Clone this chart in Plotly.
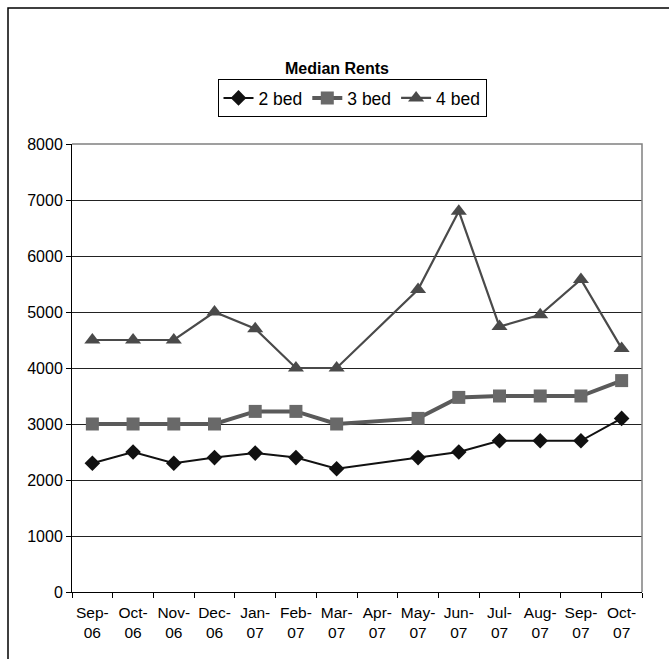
import plotly.graph_objects as go

months = ["Sep-<br>06", "Oct-<br>06", "Nov-<br>06", "Dec-<br>06", "Jan-<br>07", "Feb-<br>07",
          "Mar-<br>07", "Apr-<br>07", "May-<br>07", "Jun-<br>07", "Jul-<br>07", "Aug-<br>07",
          "Sep-<br>07", "Oct-<br>07"]
bed2 = [2300, 2500, 2300, 2400, 2480, 2400, 2200, None, 2400, 2500, 2700, 2700, 2700, 3100]
bed3 = [3000, 3000, 3000, 3000, 3225, 3225, 3000, None, 3100, 3475, 3500, 3500, 3500, 3775]
bed4 = [4500, 4500, 4500, 5000, 4700, 4000, 4000, None, 5400, 6800, 4740, 4950, 5580, 4350]
y_ticks = [0, 1000, 2000, 3000, 4000, 5000, 6000, 7000, 8000]

FONT = "Liberation Sans, Arial, sans-serif"

fig = go.Figure()
fig.add_trace(go.Scatter(x=months, y=bed2, name="2 bed", mode="lines+markers",
                         connectgaps=True,
                         line=dict(color="#111111", width=2),
                         marker=dict(symbol="diamond", size=12, color="#111111")))
fig.add_trace(go.Scatter(x=months, y=bed3, name="3 bed", mode="lines+markers",
                         connectgaps=True,
                         line=dict(color="#5a5a5a", width=4),
                         marker=dict(symbol="square", size=13, color="#696969")))
fig.add_trace(go.Scatter(x=months, y=bed4, name="4 bed", mode="lines+markers",
                         connectgaps=True,
                         line=dict(color="#4a4a4a", width=2.2),
                         marker=dict(symbol="triangle-up", size=14, color="#4a4a4a")))

L, R, T, B = 72, 642, 144, 592
W, H = 669, 659
pw, ph = R - L, B - T
bx = (8 - L) / pw
by = 1 + (T - 8) / ph
fig.add_shape(type="path", xref="paper", yref="paper",
              path=f"M {bx},{-0.3} L {bx},{by} L {1.1},{by}",
              line=dict(color="#000000", width=1.5))
# plot area border (top/right gray)
fig.add_shape(type="path", xref="paper", yref="paper",
              path="M 0,1 L 1,1 L 1,0",
              line=dict(color="#808080", width=1.5))

fig.update_layout(
    width=W, height=H,
    margin=dict(l=L, r=W - R, t=T, b=H - B, autoexpand=False),
    paper_bgcolor="white", plot_bgcolor="white",
    font=dict(family=FONT, color="#000000", size=15),
    title=dict(text="<b>Median Rents</b>", x=337 / W, xanchor="center",
               y=1 - 68 / H, yanchor="middle", yref="container",
               font=dict(size=16, family=FONT)),
    showlegend=True,
    legend=dict(orientation="h", x=(352 - L) / pw, xanchor="center",
                y=1 + (T - 79) / ph, yanchor="top",
                bordercolor="#000000", borderwidth=1, bgcolor="white",
                font=dict(size=17.5, family=FONT), itemwidth=30,
                traceorder="normal", tracegroupgap=0),
    xaxis=dict(type="category", tickson="boundaries", ticks="outside", ticklen=5,
               tickcolor="#000000", showline=True, linecolor="#000000", linewidth=1,
               showgrid=False, tickfont=dict(size=15.5, family=FONT),
               tickangle=0, automargin=False,
               ticklabelstandoff=6,
               range=[-0.5, len(months) - 0.5], fixedrange=True),
    yaxis=dict(range=[0, 8000], tickvals=y_ticks, ticks="outside", ticklen=5,
               tickcolor="#000000", showline=True, linecolor="#000000", linewidth=1,
               showgrid=True, gridcolor="#222222", gridwidth=1, zeroline=False,
               automargin=False,
               tickfont=dict(size=16, family=FONT)),
)

fig.write_html("out.html")
